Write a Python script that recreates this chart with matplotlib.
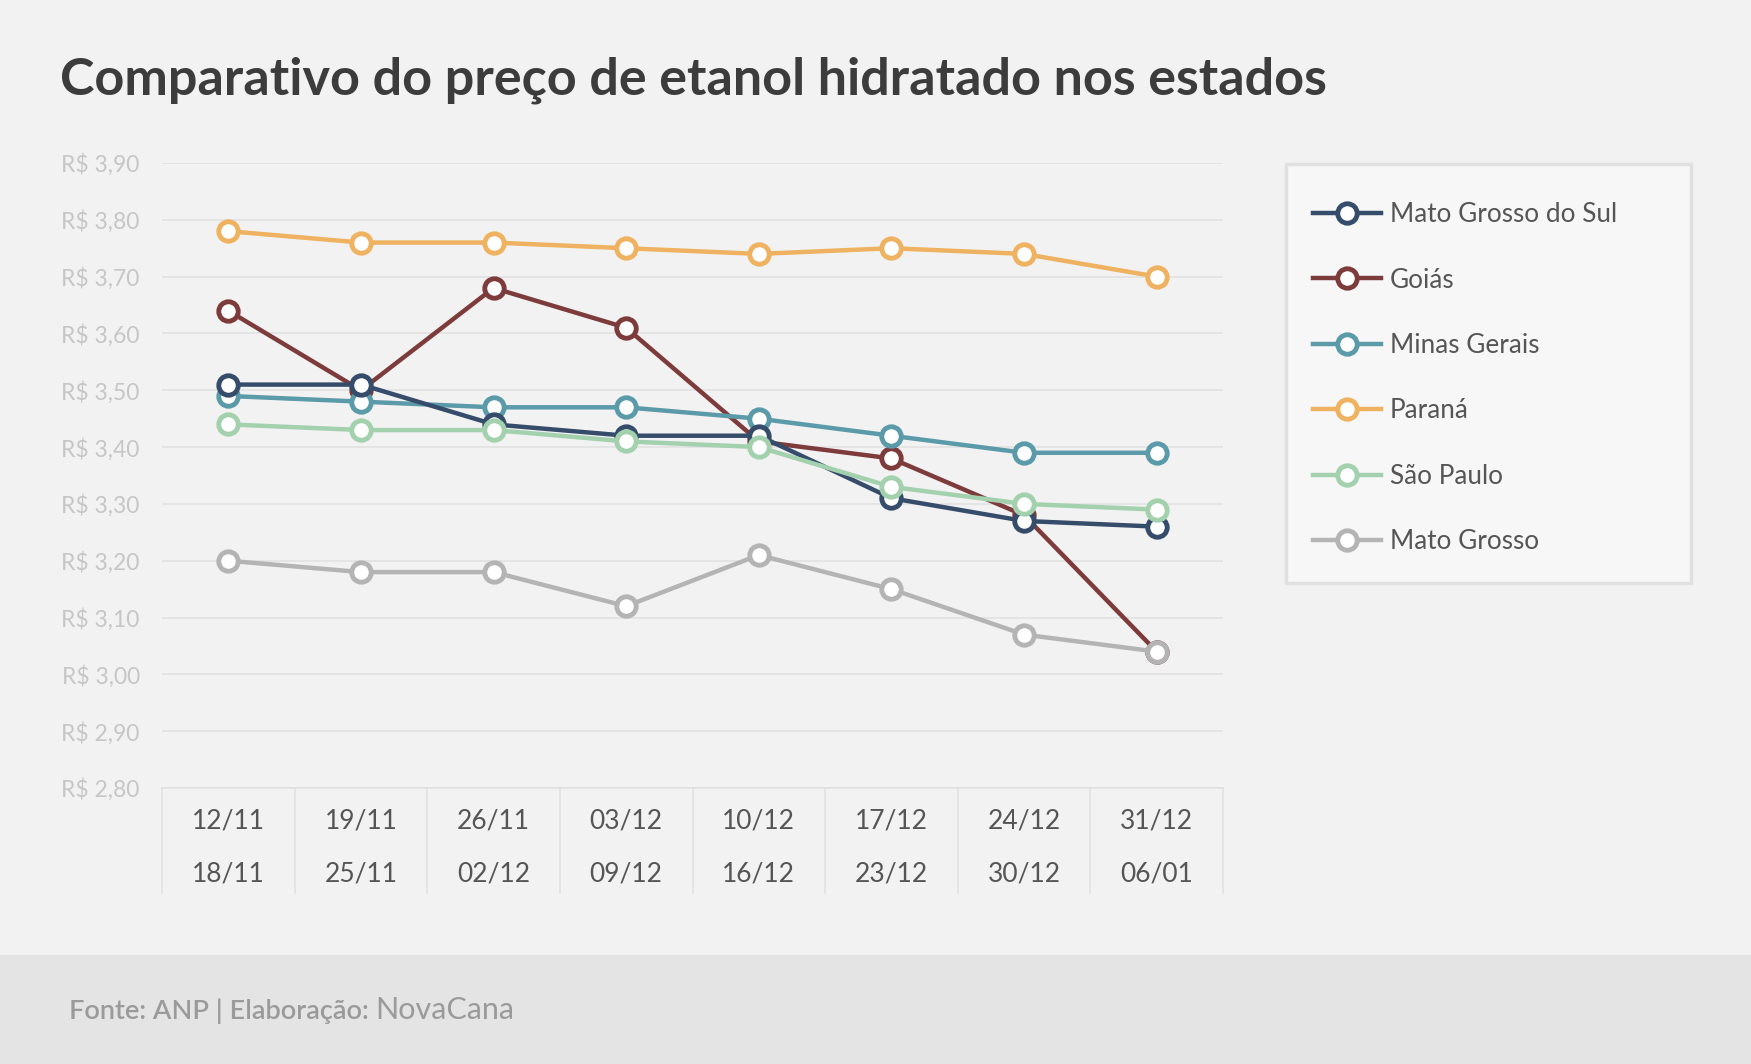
import matplotlib.pyplot as plt
from matplotlib.patches import Rectangle
from matplotlib.transforms import blended_transform_factory

# semanas (inicio / fim)
week_start = ["12/11", "19/11", "26/11", "03/12", "10/12", "17/12", "24/12", "31/12"]
week_end = ["18/11", "25/11", "02/12", "09/12", "16/12", "23/12", "30/12", "06/01"]

mato_grosso_sul = [3.51, 3.51, 3.44, 3.42, 3.42, 3.31, 3.27, 3.26]
goias = [3.64, 3.50, 3.68, 3.61, 3.41, 3.38, 3.28, 3.04]
minas_gerais = [3.49, 3.48, 3.47, 3.47, 3.45, 3.42, 3.39, 3.39]
parana = [3.78, 3.76, 3.76, 3.75, 3.74, 3.75, 3.74, 3.70]
sao_paulo = [3.44, 3.43, 3.43, 3.41, 3.40, 3.33, 3.30, 3.29]
mato_grosso = [3.20, 3.18, 3.18, 3.12, 3.21, 3.15, 3.07, 3.04]

y_ticks = [2.8, 2.9, 3.0, 3.1, 3.2, 3.3, 3.4, 3.5, 3.6, 3.7, 3.8, 3.9]

plt.rcParams['font.family'] = ['Lato', 'DejaVu Sans']

BG = '#f2f2f2'
fig = plt.figure(figsize=(17.51, 10.64), dpi=100, facecolor=BG)

# faixa do rodape
fig.patches.append(Rectangle((0, 0), 1, 109 / 1064, transform=fig.transFigure,
                             facecolor='#e4e4e4', edgecolor='none', zorder=0))

ax = fig.add_axes([162 / 1751, 1 - 788 / 1064, (1223 - 162) / 1751, (788 - 163) / 1064])
ax.set_facecolor(BG)

series = [
    ("Mato Grosso do Sul", mato_grosso_sul, '#364c6b', 6),
    ("Goiás", goias, '#7e3b3b', 3),
    ("Minas Gerais", minas_gerais, '#5b9aa8', 4),
    ("Paraná", parana, '#efb260', 5),
    ("São Paulo", sao_paulo, '#a3d0ad', 7),
    ("Mato Grosso", mato_grosso, '#b4b4b4', 8),
]

x = list(range(len(week_start)))
handles = []
for name, vals, color, z in series:
    h, = ax.plot(x, vals, color=color, lw=3.2, marker='o', ms=14,
                 mfc='white', mec=color, mew=3.5, zorder=z, label=name,
                 clip_on=False)
    handles.append(h)

ax.set_xlim(-0.5, 7.5)
ax.set_ylim(2.8, 3.9)
ax.set_yticks(y_ticks)
ax.set_yticklabels(["R$ " + f"{v:.2f}".replace('.', ',') for v in y_ticks])
ax.yaxis.grid(True, color='#e0e0e0', lw=1.1)
ax.set_axisbelow(True)
for s in ax.spines.values():
    s.set_visible(False)

ax.set_xticks(x)
ax.set_xticklabels([a + "\n" + b for a, b in zip(week_start, week_end)],
                   linespacing=2.4)
ax.tick_params(axis='x', length=0, pad=15, labelsize=19, labelcolor='#555555')
ax.tick_params(axis='y', length=0, pad=16, labelsize=16.5, labelcolor='#c6c6c6')

# caixa das categorias abaixo do eixo
trans = blended_transform_factory(ax.transData, ax.transAxes)
for i in range(len(x) + 1):
    ax.plot([i - 0.5, i - 0.5], [0, -0.168], transform=trans, color='#e0e0e0',
            lw=1.1, clip_on=False, zorder=1)
ax.plot([-0.5, 7.5], [0, 0], transform=trans, color='#e0e0e0', lw=1.1,
        clip_on=False, zorder=1)

# titulo
fig.text(60 / 1751, 1 - 80 / 1064, "Comparativo do preço de etanol hidratado nos estados",
         fontsize=37.5, fontweight='bold', color='#3c3c3c', va='center', ha='left')

# legenda
fig.patches.append(Rectangle((1286 / 1751, 1 - 583 / 1064), (1691 - 1286) / 1751,
                             (583 - 164) / 1064, transform=fig.transFigure,
                             facecolor='#f7f7f7', edgecolor='#e0e0e0', lw=2.5, zorder=1))
leg = fig.legend(handles=handles, loc='upper left',
                 bbox_to_anchor=(1300 / 1751, 1 - 189 / 1064),
                 frameon=False, fontsize=18.8, labelspacing=1.55,
                 handlelength=2.6, handletextpad=0.35, borderpad=0)
for t in leg.get_texts():
    t.set_color('#555555')

# rodape
fig.canvas.draw()
t1 = fig.text(69 / 1751, 1 - 1011 / 1064, "Fonte: ANP | Elaboração: ",
              fontsize=19.5, fontweight='semibold', color='#9a9a9a', va='center', ha='left')
fig.canvas.draw()
bb = t1.get_window_extent()
fig.text(bb.x1 / 1751, 1 - 1010 / 1064, "NovaCana", fontsize=22, color='#9a9a9a',
         va='center', ha='left')

fig.savefig("out.png", dpi=100, facecolor=BG)
